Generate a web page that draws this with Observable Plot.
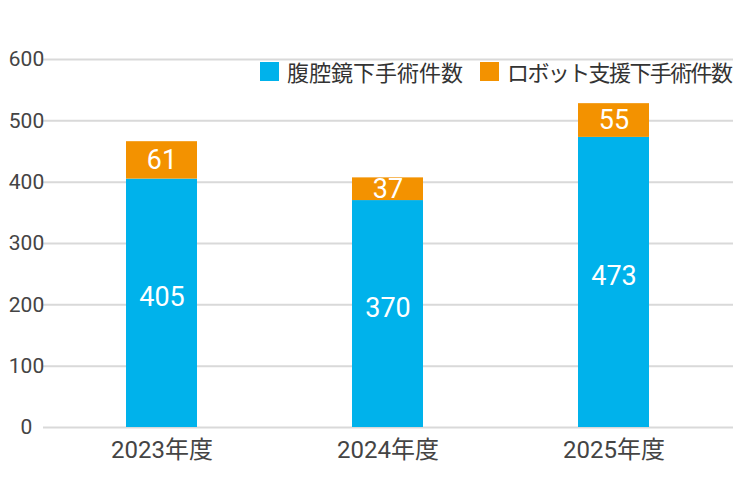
<!DOCTYPE html>
<html><head><meta charset="utf-8">
<script src="https://cdn.jsdelivr.net/npm/d3@7"></script>
<script src="https://cdn.jsdelivr.net/npm/@observablehq/plot@0.6"></script>
<style>
body{margin:0;background:#fff;}
#wrap{position:relative;width:750px;height:500px;}
#legend{position:absolute;left:260px;top:60px;display:flex;align-items:center;font-family:'Noto Sans CJK JP',sans-serif;font-size:22px;color:#333;line-height:22px;}
#legend .item{display:flex;align-items:center;margin-right:17px;}
#legend .sw{width:19px;height:19px;display:inline-block;margin-right:8px;}
</style></head>
<body><div id="wrap"><div id="legend"></div></div>
<script>
const years = ["2023年度", "2024年度", "2025年度"];
const series = ["腹腔鏡下手術件数", "ロボット支援下手術件数"];
const laparoscopic = [405, 370, 473];
const robotic = [61, 37, 55];
const colors = ["#00b2eb", "#f39200"];
const yTicks = [0, 100, 200, 300, 400, 500, 600];

const data = [];
years.forEach((y, i) => data.push({year: y, series: series[0], value: laparoscopic[i]}));
years.forEach((y, i) => data.push({year: y, series: series[1], value: robotic[i]}));

const stackOpts = {x: "year", y: "value", z: "series", text: "value"};
const font = "Roboto, 'Noto Sans CJK JP', sans-serif";

const chart = Plot.plot({
  width: 750, height: 500,
  marginLeft: 43, marginRight: 17, marginTop: 59, marginBottom: 73,
  style: {fontFamily: font, background: "#fff"},
  x: {domain: years, paddingInner: 0.684, paddingOuter: 0.367, label: null},
  y: {domain: [0, 600], ticks: yTicks, label: null},
  color: {domain: series, range: colors},
  marks: [
    Plot.gridY(yTicks, {stroke: "#d9d9d9", strokeOpacity: 1, strokeWidth: 2}),
    Plot.axisY(yTicks, {tickSize: 0, tickPadding: 17, textAnchor: "middle", fontSize: 21, fill: "#444", label: null}),
    Plot.axisX({tickSize: 0, tickPadding: 13, fontSize: 24, fill: "#444", label: null}),
    Plot.barY(data, {x: "year", y: "value", fill: "series"}),
    Plot.text(data, Plot.filter(d => d.series === series[0], Plot.stackY({...stackOpts, fill: "white", fontSize: 27, dy: -6}))),
    Plot.text(data, Plot.filter(d => d.series === series[1], Plot.stackY({...stackOpts, fill: "white", fontSize: 27})))
  ]
});
document.getElementById("wrap").prepend(chart);

const legend = document.getElementById("legend");
series.forEach((s, i) => {
  const item = document.createElement("span");
  item.className = "item";
  const sw = document.createElement("span");
  sw.className = "sw";
  sw.style.background = colors[i];
  const t = document.createElement("span");
  t.textContent = s;
  if (i === 1) t.style.letterSpacing = "-1.6px";
  item.append(sw, t);
  legend.append(item);
});
</script>
</body></html>
